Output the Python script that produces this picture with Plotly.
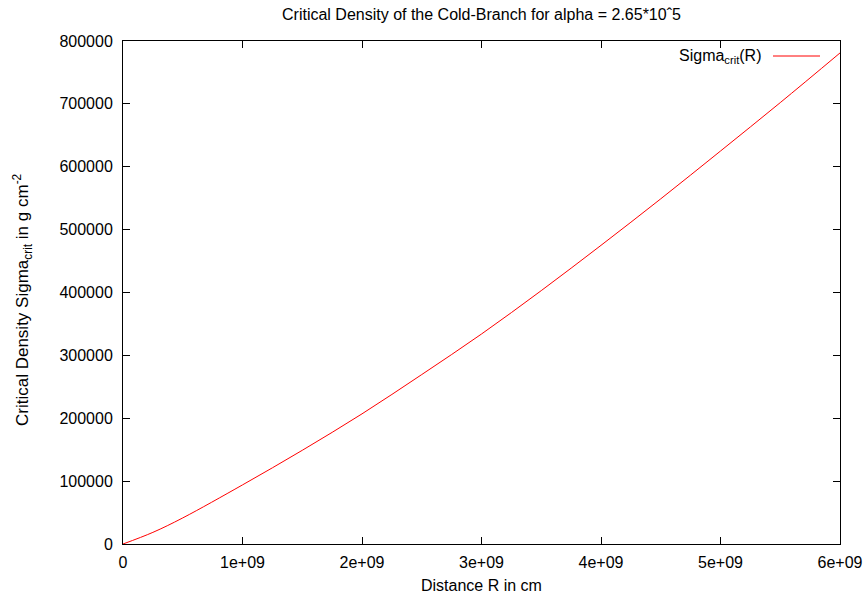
import plotly.graph_objects as go

# Data
R_cm = [0, 0.25e9, 0.5e9, 1.0e9, 1.5e9, 2.0e9, 2.5e9, 3.0e9, 3.5e9, 4.0e9, 4.5e9, 5.0e9, 5.5e9, 6.0e9]
sigma_crit = [0, 18500, 41500, 94000, 149000, 207000, 269500, 334000, 403000, 475000, 549000, 625000, 702000, 781000]

x_tickvals = [0, 1e9, 2e9, 3e9, 4e9, 5e9, 6e9]
x_ticktext = ["0", "1e+09", "2e+09", "3e+09", "4e+09", "5e+09", "6e+09"]
y_tickvals = [0, 100000, 200000, 300000, 400000, 500000, 600000, 700000, 800000]
y_ticktext = [str(v) for v in y_tickvals]

W, H = 868, 597
L, R, T, B = 123, 28, 41, 53
PW, PH = W - L - R, H - T - B
FONT = "Liberation Sans, Arial, sans-serif"
FS = 16


def px_x(x):
    return (x - L) / PW


def px_y(y):
    return 1 - (y - T) / PH


fig = go.Figure()
fig.add_trace(go.Scatter(x=R_cm, y=sigma_crit, mode="lines",
                         line=dict(color="#ff0000", width=1, shape="spline"),
                         showlegend=False, name="Sigma_crit(R)"))

axis_common = dict(showgrid=False, zeroline=False, showline=True, linecolor="black",
                   linewidth=1, mirror="ticks", ticks="inside", ticklen=7, automargin=False,
                   tickcolor="black", tickfont=dict(family=FONT, size=FS, color="black"))

fig.update_layout(
    width=W, height=H,
    margin=dict(l=L, r=R, t=T, b=B, autoexpand=False),
    paper_bgcolor="white", plot_bgcolor="white",
    font=dict(family=FONT, size=FS, color="black"),
    xaxis=dict(range=[0, 6e9], tickvals=x_tickvals, ticktext=x_ticktext,
               ticklabelstandoff=4, **axis_common),
    yaxis=dict(range=[0, 800000], tickvals=y_tickvals, ticktext=y_ticktext,
               ticklabelstandoff=6, **axis_common),
)

# Title and axis titles placed like the gnuplot original
fig.add_annotation(xref="paper", yref="paper", x=px_x(481), y=px_y(14),
                   text="Critical Density of the Cold-Branch for alpha = 2.65*10ˆ5",
                   showarrow=False, xanchor="center", yanchor="middle",
                   font=dict(family=FONT, size=FS, color="black"))
fig.add_annotation(xref="paper", yref="paper", x=px_x(481), y=px_y(585),
                   text="Distance R in cm", showarrow=False, xanchor="center", yanchor="middle",
                   font=dict(family=FONT, size=FS, color="black"))
fig.add_annotation(xref="paper", yref="paper", x=px_x(22), y=px_y(300), textangle=-90,
                   text="Critical Density Sigma<sub>crit</sub> in g cm<sup>-2</sup>",
                   showarrow=False, xanchor="center", yanchor="middle",
                   font=dict(family=FONT, size=17, color="black"))

# Gnuplot-style key: text then line sample at right
fig.add_annotation(xref="paper", yref="paper", x=px_x(764), y=px_y(57),
                   text="Sigma<sub>crit</sub>(R)", showarrow=False, xanchor="right", yanchor="middle",
                   font=dict(family=FONT, size=FS, color="black"))
fig.add_shape(type="line", xref="paper", yref="paper",
              x0=px_x(773), x1=px_x(820), y0=px_y(56), y1=px_y(56),
              line=dict(color="#ff0000", width=1))

fig.write_html("out.html")
